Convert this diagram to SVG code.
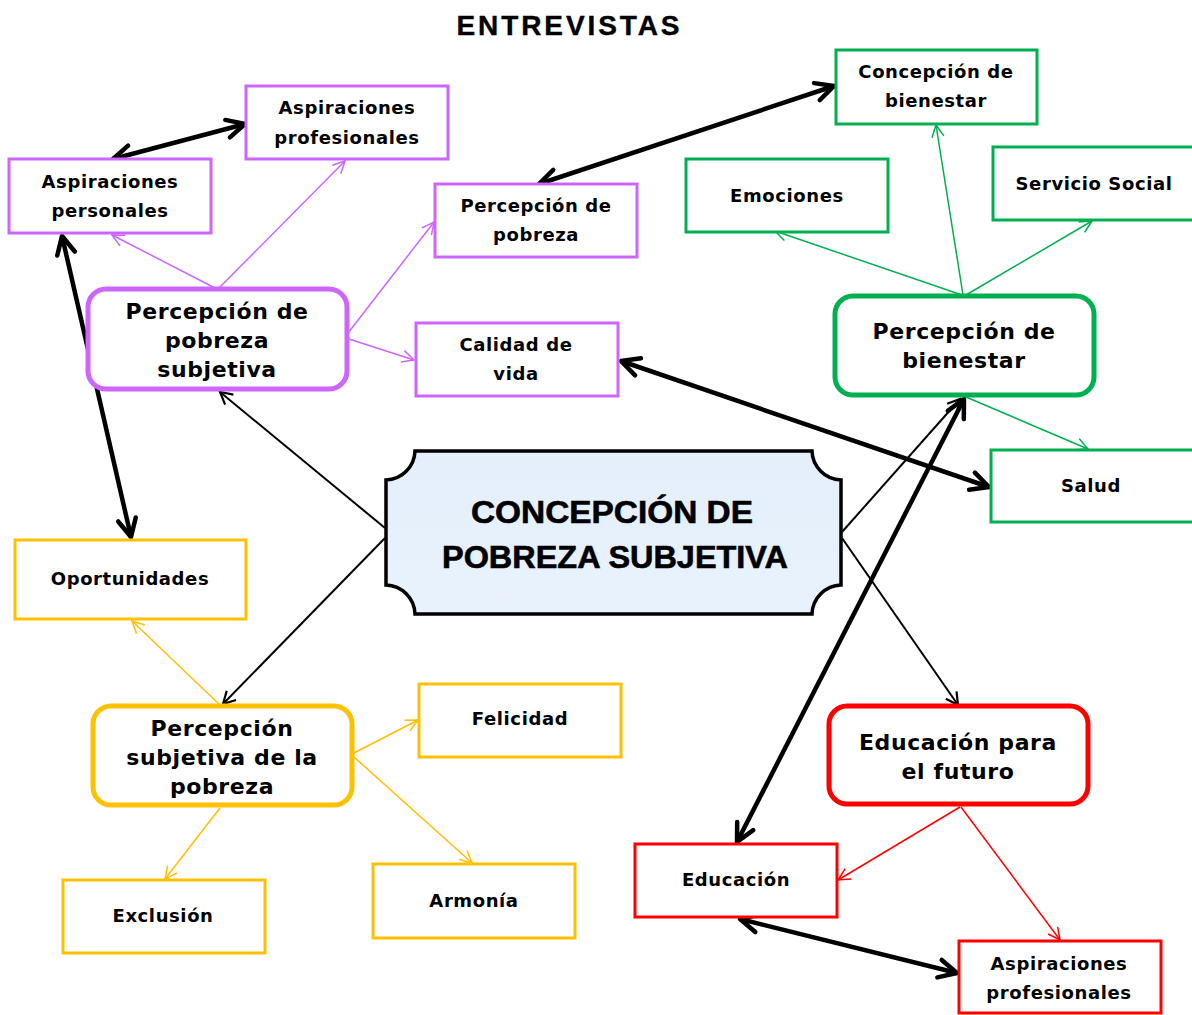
<svg xmlns="http://www.w3.org/2000/svg" width="1192" height="1015" viewBox="0 0 1192 1015">
<defs>
<style>
.t{font-family:"DejaVu Sans","Liberation Sans",sans-serif;font-weight:bold;font-size:18px;fill:#000;text-anchor:middle;letter-spacing:0.6px}
.tb{font-family:"DejaVu Sans","Liberation Sans",sans-serif;font-weight:bold;font-size:22px;fill:#000;text-anchor:middle;letter-spacing:0.6px}
.tc{font-family:"Liberation Sans",Arial,sans-serif;font-weight:bold;font-size:32px;fill:#000;text-anchor:middle;stroke:#000;stroke-width:0.6}
.pu{fill:#fff;stroke:#cc66ff;stroke-width:3}
.gr{fill:#fff;stroke:#00b050;stroke-width:3}
.ye{fill:#fff;stroke:#ffc000;stroke-width:3}
.re{fill:#fff;stroke:#ff0000;stroke-width:3}
.big{stroke-width:5}
.lk{fill:none;stroke:#000;stroke-width:2}
.lK{fill:none;stroke:#000;stroke-width:4.5}
.lp{fill:none;stroke:#cc66ff;stroke-width:1.5}
.lg{fill:none;stroke:#00b050;stroke-width:1.5}
.ly{fill:none;stroke:#ffc000;stroke-width:1.5}
.lr{fill:none;stroke:#ff0000;stroke-width:1.5}
</style>
<marker id="ak" viewBox="0 0 16 16" markerWidth="16" markerHeight="16" refX="14" refY="8" orient="auto-start-reverse" markerUnits="userSpaceOnUse"><path d="M2,1.5 L14,8 L2,14.5" fill="none" stroke="#000" stroke-width="2.2"/></marker>
<marker id="aK" viewBox="0 0 24 24" markerWidth="24" markerHeight="24" refX="21" refY="12" orient="auto-start-reverse" markerUnits="userSpaceOnUse"><path d="M3,3 L21,12 L3,21" fill="none" stroke="#000" stroke-width="4.5" stroke-linecap="round" stroke-linejoin="round"/></marker>
<marker id="ap" viewBox="0 0 14 14" markerWidth="14" markerHeight="14" refX="13" refY="7" orient="auto" markerUnits="userSpaceOnUse"><path d="M1,1 L13,7 L1,13" fill="none" stroke="#cc66ff" stroke-width="1.5"/></marker>
<marker id="ag" viewBox="0 0 14 14" markerWidth="14" markerHeight="14" refX="13" refY="7" orient="auto" markerUnits="userSpaceOnUse"><path d="M1,1 L13,7 L1,13" fill="none" stroke="#00b050" stroke-width="1.5"/></marker>
<marker id="ay" viewBox="0 0 14 14" markerWidth="14" markerHeight="14" refX="13" refY="7" orient="auto" markerUnits="userSpaceOnUse"><path d="M1,1 L13,7 L1,13" fill="none" stroke="#ffc000" stroke-width="1.5"/></marker>
<marker id="ar" viewBox="0 0 14 14" markerWidth="14" markerHeight="14" refX="13" refY="7" orient="auto" markerUnits="userSpaceOnUse"><path d="M1,1 L13,7 L1,13" fill="none" stroke="#ff0000" stroke-width="1.5"/></marker>
<linearGradient id="cg" x1="0" y1="0" x2="0" y2="1"><stop offset="0" stop-color="#e4effb"/><stop offset="1" stop-color="#e9f2fc"/></linearGradient>
</defs>
<rect width="1192" height="1015" fill="#fff"/>
<text x="568" y="35" font-family="Liberation Sans, Arial, sans-serif" font-weight="bold" font-size="28" text-anchor="middle" stroke="#000" stroke-width="0.4" textLength="223" lengthAdjust="spacing">ENTREVISTAS</text>

<g id="connectors">
<line class="lk" x1="385" y1="528" x2="220" y2="392" marker-end="url(#ak)"/>
<line class="lk" x1="385" y1="538" x2="223" y2="704" marker-end="url(#ak)"/>
<line class="lk" x1="842" y1="532" x2="960" y2="399" marker-end="url(#ak)"/>
<line class="lk" x1="842" y1="538" x2="958" y2="705" marker-end="url(#ak)"/>
<line class="lK" x1="113" y1="159" x2="245" y2="124" marker-start="url(#aK)" marker-end="url(#aK)"/>
<line class="lK" x1="539" y1="184" x2="834" y2="86" marker-start="url(#aK)" marker-end="url(#aK)"/>
<line class="lK" x1="621" y1="361" x2="989" y2="487" marker-start="url(#aK)" marker-end="url(#aK)"/>
<line class="lK" x1="62" y1="236" x2="131" y2="537" marker-start="url(#aK)" marker-end="url(#aK)"/>
<line class="lK" x1="964" y1="399" x2="737" y2="842" marker-start="url(#aK)" marker-end="url(#aK)"/>
<line class="lK" x1="740" y1="919" x2="957" y2="973" marker-start="url(#aK)" marker-end="url(#aK)"/>
<line class="lp" x1="215" y1="288" x2="112" y2="235" marker-end="url(#ap)"/>
<line class="lp" x1="219" y1="288" x2="345" y2="161" marker-end="url(#ap)"/>
<line class="lp" x1="348" y1="333" x2="434" y2="222" marker-end="url(#ap)"/>
<line class="lp" x1="349" y1="339" x2="414" y2="360" marker-end="url(#ap)"/>
<line class="lg" x1="962" y1="295" x2="775" y2="231" marker-end="url(#ag)"/>
<line class="lg" x1="963" y1="295" x2="936" y2="125" marker-end="url(#ag)"/>
<line class="lg" x1="966" y1="295" x2="1092" y2="221" marker-end="url(#ag)"/>
<line class="lg" x1="966" y1="397" x2="1088" y2="449" marker-end="url(#ag)"/>
<line class="ly" x1="219" y1="704" x2="132" y2="621" marker-end="url(#ay)"/>
<line class="ly" x1="354" y1="753" x2="418" y2="720" marker-end="url(#ay)"/>
<line class="ly" x1="354" y1="757" x2="472" y2="863" marker-end="url(#ay)"/>
<line class="ly" x1="220" y1="808" x2="165" y2="879" marker-end="url(#ay)"/>
<line class="lr" x1="960" y1="807" x2="838" y2="880" marker-end="url(#ar)"/>
<line class="lr" x1="961" y1="807" x2="1060" y2="940" marker-end="url(#ar)"/>
</g>

<g id="center">
<path d="M415 451 H812 A30 30 0 0 0 841 480 V585 A30 30 0 0 0 812 614 H415 A30 30 0 0 0 386 585 V480 A30 30 0 0 0 415 451 Z" fill="url(#cg)" stroke="#000" stroke-width="3.5"/>
<text class="tc" x="612" y="523" textLength="282" lengthAdjust="spacingAndGlyphs">CONCEPCIÓN DE</text>
<text class="tc" x="615" y="568" textLength="346" lengthAdjust="spacingAndGlyphs">POBREZA SUBJETIVA</text>
</g>

<g id="n-pps"><rect class="pu big" x="88" y="289" width="259" height="100" rx="18"/>
<text class="tb" x="217" y="319">Percepción de</text><text class="tb" x="217" y="348">pobreza</text><text class="tb" x="217" y="377">subjetiva</text></g>
<g id="n-asprof1"><rect class="pu" x="246" y="86" width="202" height="73"/>
<text class="t" x="347" y="114">Aspiraciones</text><text class="t" x="347" y="144">profesionales</text></g>
<g id="n-aspers"><rect class="pu" x="9" y="159" width="202" height="74"/>
<text class="t" x="110" y="188">Aspiraciones</text><text class="t" x="110" y="217">personales</text></g>
<g id="n-pp"><rect class="pu" x="435" y="184" width="202" height="73"/>
<text class="t" x="536" y="212">Percepción de</text><text class="t" x="536" y="241">pobreza</text></g>
<g id="n-cv"><rect class="pu" x="416" y="323" width="202" height="73"/>
<text class="t" x="516" y="351">Calidad de</text><text class="t" x="516" y="380">vida</text></g>

<g id="n-pb"><rect class="gr big" x="835" y="296" width="259" height="99" rx="18"/>
<text class="tb" x="964" y="339">Percepción de</text><text class="tb" x="964" y="368">bienestar</text></g>
<g id="n-cb"><rect class="gr" x="836" y="50" width="201" height="74"/>
<text class="t" x="936" y="78">Concepción de</text><text class="t" x="936" y="107">bienestar</text></g>
<g id="n-emo"><rect class="gr" x="686" y="159" width="202" height="73"/>
<text class="t" x="787" y="202">Emociones</text></g>
<g id="n-ss"><rect class="gr" x="993" y="147" width="204" height="73"/>
<text class="t" x="1094" y="190">Servicio Social</text></g>
<g id="n-salud"><rect class="gr" x="991" y="450" width="206" height="72"/>
<text class="t" x="1091" y="492">Salud</text></g>

<g id="n-psp"><rect class="ye big" x="93" y="706" width="259" height="99" rx="18"/>
<text class="tb" x="222" y="736">Percepción</text><text class="tb" x="222" y="765">subjetiva de la</text><text class="tb" x="222" y="794">pobreza</text></g>
<g id="n-op"><rect class="ye" x="15" y="540" width="231" height="79"/>
<text class="t" x="130" y="585">Oportunidades</text></g>
<g id="n-fel"><rect class="ye" x="419" y="684" width="202" height="73"/>
<text class="t" x="520" y="725">Felicidad</text></g>
<g id="n-exc"><rect class="ye" x="63" y="880" width="202" height="73"/>
<text class="t" x="163" y="922">Exclusión</text></g>
<g id="n-arm"><rect class="ye" x="373" y="864" width="202" height="74"/>
<text class="t" x="474" y="907">Armonía</text></g>

<g id="n-ef"><rect class="re big" x="829" y="706" width="259" height="98" rx="18"/>
<text class="tb" x="958" y="750">Educación para</text><text class="tb" x="958" y="779">el futuro</text></g>
<g id="n-edu"><rect class="re" x="635" y="844" width="202" height="73"/>
<text class="t" x="736" y="886">Educación</text></g>
<g id="n-asprof2"><rect class="re" x="959" y="941" width="202" height="72"/>
<text class="t" x="1059" y="970">Aspiraciones</text><text class="t" x="1059" y="999">profesionales</text></g>
</svg>
